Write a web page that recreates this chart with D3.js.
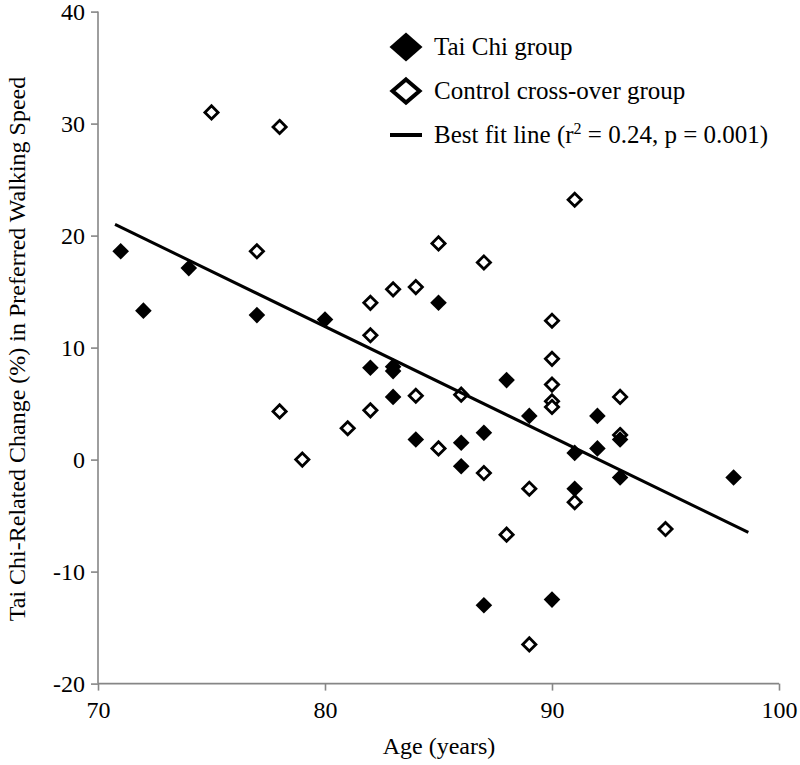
<!DOCTYPE html>
<html>
<head>
<meta charset="utf-8">
<script src="https://cdn.jsdelivr.net/npm/d3@7"></script>
<style>
  html, body { margin: 0; padding: 0; background: #fff; }
  svg { display: block; }
  svg text { font-family: "Liberation Serif", "DejaVu Serif", serif; }
</style>
</head>
<body>
<svg id="chart" width="800" height="765"></svg>
<script>
// ---- data ----
const taiChiAge    = [71, 72, 74, 77, 80, 82, 83, 83, 83, 84, 85, 86, 86, 87, 87, 88, 89, 90, 91, 91, 92, 92, 93, 93, 98];
const taiChiChange = [18.6, 13.3, 17.1, 12.9, 12.5, 8.2, 8.3, 7.9, 5.6, 1.8, 14.0, 1.5, -0.6, 2.4, -13.0, 7.1, 3.9, -12.5, 0.6, -2.6, 3.9, 1.0, 1.8, -1.6, -1.6];

const controlAge    = [75, 77, 78, 78, 79, 81, 82, 82, 82, 83, 84, 84, 85, 85, 86, 87, 87, 88, 89, 89, 90, 90, 90, 90, 90, 91, 91, 93, 93, 95];
const controlChange = [31.0, 18.6, 29.7, 4.3, 0.0, 2.8, 14.0, 11.1, 4.4, 15.2, 15.4, 5.7, 19.3, 1.0, 5.8, 17.6, -1.2, -6.7, -2.6, -16.5, 12.4, 9.0, 6.7, 5.2, 4.7, 23.2, -3.8, 5.6, 2.2, -6.2];

const fitAge    = [70.75, 98.65];
const fitChange = [21.0, -6.5];

const xTicks = [70, 80, 90, 100];
const yTicks = [-20, -10, 0, 10, 20, 30, 40];

const legendLabels = ["Tai Chi group", "Control cross-over group", "Best fit line (r", " = 0.24, p = 0.001)"];
const xTitle = "Age (years)";
const yTitle = "Tai Chi-Related Change (%) in Preferred Walking Speed";

// ---- layout ----
const svg = d3.select("#chart");
const x = d3.scaleLinear().domain([70, 100]).range([98, 779]);
const y = d3.scaleLinear().domain([-20, 40]).range([683.6, 11.6]);
const axisColor = "#868686";
const serif = "'Liberation Serif', 'DejaVu Serif', serif";

// axes
const gx = svg.append("g").attr("transform", `translate(0,${y(-20)})`)
  .call(d3.axisBottom(x).tickValues(xTicks).tickSize(7).tickPadding(10).tickFormat(d => String(d)));
const gy = svg.append("g").attr("transform", `translate(${x(70)},0)`)
  .call(d3.axisLeft(y).tickValues(yTicks).tickSize(7).tickPadding(6).tickFormat(d => String(d)));

[gx, gy].forEach(g => {
  g.attr("font-family", serif).attr("font-size", 24);
  g.select(".domain").attr("stroke", axisColor).attr("stroke-width", 1.6);
  g.selectAll(".tick line").attr("stroke", axisColor).attr("stroke-width", 1.6);
  g.selectAll(".tick text").attr("fill", "#000").attr("font-family", serif).attr("font-size", 24);
});
gx.select(".domain").attr("d", `M${x(70)},0H${x(100)}`);
gy.select(".domain").attr("d", `M0,${y(-20)}V${y(40)}`);
gx.selectAll(".tick text").attr("dy", "0.71em");
gy.selectAll(".tick text").attr("dy", "0.34em");

// diamonds
function diamond(hw, hh) { return `M0,${-hh}L${hw},0L0,${hh}L${-hw},0Z`; }

// control (open)
svg.append("g").selectAll("path").data(controlAge.map((a, i) => [a, controlChange[i]]))
  .join("path")
  .attr("d", diamond(6.6, 6.6))
  .attr("transform", d => `translate(${x(d[0])},${y(d[1])})`)
  .attr("fill", "#fff").attr("stroke", "#000").attr("stroke-width", 2.8);

// tai chi (filled)
svg.append("g").selectAll("path").data(taiChiAge.map((a, i) => [a, taiChiChange[i]]))
  .join("path")
  .attr("d", diamond(8.3, 8.3))
  .attr("transform", d => `translate(${x(d[0])},${y(d[1])})`)
  .attr("fill", "#000");

// best fit line
svg.append("path")
  .datum(fitAge.map((a, i) => [a, fitChange[i]]))
  .attr("d", d3.line().x(d => x(d[0])).y(d => y(d[1])))
  .attr("stroke", "#000").attr("stroke-width", 3).attr("fill", "none");

// axis titles
svg.append("text").attr("x", 439).attr("y", 754).attr("text-anchor", "middle")
  .attr("font-family", serif).attr("font-size", 24).text(xTitle);
svg.append("text").attr("transform", "translate(25,349) rotate(-90)").attr("text-anchor", "middle")
  .attr("font-family", serif).attr("font-size", 24).text(yTitle);

// legend
const lg = svg.append("g").attr("font-family", serif).attr("font-size", 25);
lg.append("path").attr("d", diamond(16.5, 14.5)).attr("transform", "translate(406,47)").attr("fill", "#000");
lg.append("path").attr("d", diamond(13.5, 11.5)).attr("transform", "translate(406,91)")
  .attr("fill", "#fff").attr("stroke", "#000").attr("stroke-width", 4);
lg.append("line").attr("x1", 390).attr("x2", 422).attr("y1", 135).attr("y2", 135)
  .attr("stroke", "#000").attr("stroke-width", 4);

lg.append("text").attr("x", 434).attr("y", 55).text(legendLabels[0]);
lg.append("text").attr("x", 434).attr("y", 99).text(legendLabels[1]);
const t3 = lg.append("text").attr("x", 434).attr("y", 143);
t3.append("tspan").text(legendLabels[2]);
t3.append("tspan").attr("dy", -9).attr("font-size", 16).text("2");
t3.append("tspan").attr("dy", 9).text(legendLabels[3]);
</script>
</body>
</html>
